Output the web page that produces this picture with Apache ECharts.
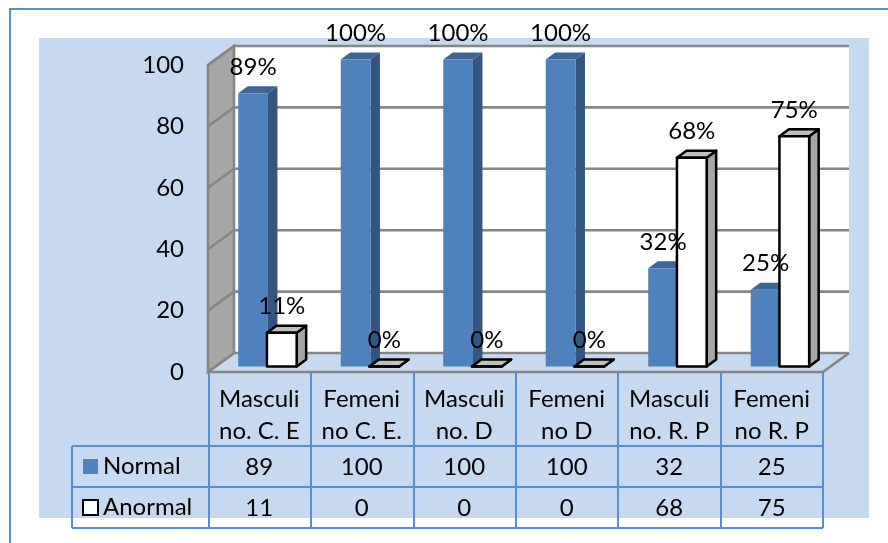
<!DOCTYPE html>
<html>
<head>
<meta charset="utf-8">
<style>html,body{margin:0;padding:0;background:#fff}#chart{width:888px;height:543px}</style>
<script src="https://cdn.jsdelivr.net/npm/echarts@6/dist/echarts.min.js"></script>
</head>
<body>
<div id="chart"></div>
<script>
const categories = ['Masculi\nno. C. E', 'Femeni\nno C. E.', 'Masculi\nno. D', 'Femeni\nno D', 'Masculi\nno. R. P', 'Femeni\nno R. P'];
const normalValues = [89, 100, 100, 100, 32, 25];
const anormalValues = [11, 0, 0, 0, 68, 75];
const yTicks = [0, 20, 40, 60, 80, 100];

const FONT = 'Lato, "Noto Sans", sans-serif';
const FONT_SIZE = 24;
const BLUE = '#4F81BD', BLUE_SIDE = '#34557F', BLUE_TOP = '#3D6596';
const GREY_LINE = '#868686', GREY_SIDE = '#A6A6A6', GREY_TOP = '#BFBFBF';
const TABLE_LINE = '#558ED5';

// Oblique projection of the 3D scene
const WALL_DX = 26, WALL_DY = -19;   // front plane to back wall
const BAR_LIFT = -5.5;               // front plane to bar plane
const SIDE_DX = 9.5, SIDE_DY = -7;   // depth of each bar
const BAR_SHARE = 0.29;              // bar width as share of a category
const BAR_SHIFT = [-0.06, 0.22];     // bar centre from category centre, in categories

function poly(points, style) {
  return { type: 'polygon', shape: { points }, style };
}

function renderBar(seriesIndex, face, side, top, stroke) {
  return function (params, api) {
    const i = api.value(0);
    const base = api.coord([i, 0]);
    const head = api.coord([i, api.value(1)]);
    const cat = api.size([1, 0])[0];
    const w = cat * BAR_SHARE;
    const x0 = base[0] + BAR_SHIFT[seriesIndex] * cat - w / 2;
    const x1 = x0 + w;
    const yb = base[1] + BAR_LIFT;
    const yt = head[1] + BAR_LIFT;
    const edge = stroke ? { stroke, lineWidth: 2.5, lineJoin: 'round' } : { stroke: null };
    return {
      type: 'group',
      children: [
        poly([[x1, yt], [x1 + SIDE_DX, yt + SIDE_DY], [x1 + SIDE_DX, yb + SIDE_DY], [x1, yb]], Object.assign({ fill: side }, edge)),
        poly([[x0, yt], [x0 + SIDE_DX, yt + SIDE_DY], [x1 + SIDE_DX, yt + SIDE_DY], [x1, yt]], Object.assign({ fill: top }, edge)),
        poly([[x0, yb], [x0, yt], [x1, yt], [x1, yb]], Object.assign({ fill: face }, edge))
      ]
    };
  };
}

function renderLabel(seriesIndex) {
  return function (params, api) {
    const i = api.value(0);
    const v = api.value(1);
    const head = api.coord([i, v]);
    const cat = api.size([1, 0])[0];
    return {
      type: 'text',
      style: {
        text: v + '%', x: head[0] + BAR_SHIFT[seriesIndex] * cat, y: head[1] + BAR_LIFT - 26,
        align: 'center', verticalAlign: 'middle', font: FONT_SIZE + 'px ' + FONT, fill: '#000'
      }
    };
  };
}

// Back wall, side wall, floor and the gridlines running round them
function renderWalls(params, api) {
  const cs = params.coordSys;
  const l = cs.x, r = cs.x + cs.width, t = cs.y, b = cs.y + cs.height;
  const line = { stroke: GREY_LINE, lineWidth: 2.6 };
  const children = [
    poly([[l + WALL_DX, t + WALL_DY], [r + WALL_DX, t + WALL_DY], [r + WALL_DX, b + WALL_DY], [l + WALL_DX, b + WALL_DY]], { fill: '#fff' }),
    poly([[l, t], [l + WALL_DX, t + WALL_DY], [l + WALL_DX, b + WALL_DY], [l, b]], Object.assign({ fill: GREY_SIDE }, line))
  ];
  yTicks.forEach(function (v) {
    const y = api.coord([0, v])[1];
    children.push({
      type: 'polyline',
      shape: { points: [[l, y], [l + WALL_DX, y + WALL_DY], [r + WALL_DX, y + WALL_DY]] },
      style: Object.assign({ fill: null }, line)
    });
  });
  children.push({ type: 'polyline', shape: { points: [[l, b], [r, b], [r + WALL_DX, b + WALL_DY]] }, style: Object.assign({ fill: null }, line) });
  return { type: 'group', children };
}

// Values of the two series in the rows under the plot
function renderTableCell(rowY) {
  return function (params, api) {
    const c = api.coord([api.value(0), 0]);
    return {
      type: 'text',
      style: {
        text: String(api.value(1)), x: c[0], y: c[1] + rowY,
        align: 'center', verticalAlign: 'middle', font: FONT_SIZE + 'px ' + FONT, fill: '#000'
      }
    };
  };
}

// Ruling of the data table
function tableLines() {
  const xs = [209, 311, 414, 516, 618, 721, 823];
  const ys = [446, 487, 528];
  const out = [];
  const style = { stroke: TABLE_LINE, lineWidth: 2 };
  xs.forEach(function (x) { out.push({ type: 'line', shape: { x1: x, y1: 373, x2: x, y2: 528 }, style, z: 10 }); });
  ys.forEach(function (y) { out.push({ type: 'line', shape: { x1: 72, y1: y, x2: 823, y2: y }, style, z: 10 }); });
  out.push({ type: 'line', shape: { x1: 72, y1: 446, x2: 72, y2: 528 }, style, z: 10 });
  return out;
}

const chart = echarts.init(document.getElementById('chart'), null, { renderer: 'canvas' });
const xy = function (values) { return values.map(function (v, i) { return [i, v]; }); };

chart.setOption({
  animation: false,
  backgroundColor: '#fff',
  graphic: {
    elements: [
      { type: 'rect', shape: { x: 10, y: 9, width: 900, height: 600 }, style: { fill: '#fff', stroke: TABLE_LINE, lineWidth: 2 }, z: -3 },
      { type: 'rect', shape: { x: 39, y: 38, width: 830, height: 480 }, style: { fill: '#C6D9F0' }, z: -2 }
    ].concat(tableLines())
  },
  legend: {
    orient: 'vertical', left: 82, top: 453, padding: 0, itemWidth: 15, itemHeight: 15, itemGap: 14,
    icon: 'rect', selectedMode: false, data: ['Normal', 'Anormal'],
    textStyle: { fontFamily: FONT, fontSize: FONT_SIZE, color: '#000', lineHeight: 27 }, z: 12
  },
  grid: { left: 208, top: 65, width: 615, height: 307 },
  xAxis: {
    type: 'category', data: categories,
    axisLine: { show: false }, axisTick: { show: false },
    axisLabel: { margin: 11, interval: 0, fontFamily: FONT, fontSize: FONT_SIZE, lineHeight: 32, color: '#000' }
  },
  yAxis: {
    type: 'value', min: 0, max: 100, interval: 20,
    axisLine: { show: false }, axisTick: { show: false }, splitLine: { show: false },
    axisLabel: { margin: 24, padding: [5, 0, 0, 0], fontFamily: FONT, fontSize: FONT_SIZE, color: '#000' }
  },
  series: [
    { type: 'custom', name: 'walls', z: 1, clip: false, silent: true, renderItem: renderWalls, data: [[0, 0]] },
    { type: 'custom', name: 'Normal', z: 2, clip: false, renderItem: renderBar(0, BLUE, BLUE_SIDE, BLUE_TOP, null),
      itemStyle: { color: BLUE }, data: xy(normalValues) },
    { type: 'custom', name: 'Anormal', z: 3, clip: false, renderItem: renderBar(1, '#fff', GREY_SIDE, GREY_TOP, '#000'),
      itemStyle: { color: '#fff', borderColor: '#000', borderWidth: 2 }, data: xy(anormalValues) },
    { type: 'custom', name: 'normalLabels', z: 4, clip: false, silent: true, renderItem: renderLabel(0), data: xy(normalValues) },
    { type: 'custom', name: 'anormalLabels', z: 4, clip: false, silent: true, renderItem: renderLabel(1), data: xy(anormalValues) },
    { type: 'custom', name: 'normalRow', z: 4, clip: false, silent: true, renderItem: renderTableCell(95.5), data: xy(normalValues) },
    { type: 'custom', name: 'anormalRow', z: 4, clip: false, silent: true, renderItem: renderTableCell(136.5), data: xy(anormalValues) }
  ]
});
</script>
</body>
</html>
